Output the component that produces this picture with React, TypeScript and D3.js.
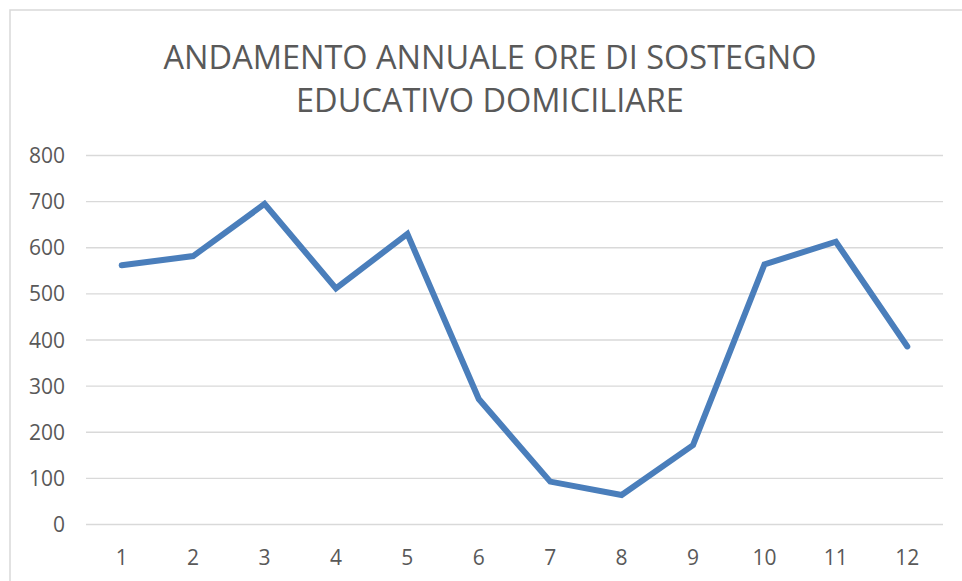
import { useEffect, useRef } from "react"
import * as d3 from "d3"

// Monthly data
const months = ["1", "2", "3", "4", "5", "6", "7", "8", "9", "10", "11", "12"]
const hours = [562, 582, 695, 512, 630, 272, 93, 64, 172, 564, 613, 386]
const yTicks = [0, 100, 200, 300, 400, 500, 600, 700, 800]
const titleLines = ["ANDAMENTO ANNUALE ORE DI SOSTEGNO", "EDUCATIVO DOMICILIARE"]

export default function App() {
  const svgRef = useRef<SVGSVGElement>(null)

  useEffect(() => {
    if (!svgRef.current) return
    d3.select(svgRef.current).selectAll("*").remove()

    const width = 962
    const height = 581
    const margin = { top: 155.5, right: 19, bottom: 56.5, left: 86 }

    const svg = d3.select(svgRef.current).attr("width", width).attr("height", height)

    svg.append("rect").attr("width", width).attr("height", height).attr("fill", "#fff")

    // chart border (runs off right and bottom edges)
    svg
      .append("rect")
      .attr("x", 10)
      .attr("y", 10)
      .attr("width", width + 20)
      .attr("height", height + 20)
      .attr("fill", "none")
      .attr("stroke", "#d9d9d9")
      .attr("stroke-width", 1.5)

    const xScale = d3
      .scaleBand()
      .domain(months)
      .range([margin.left, width - margin.right])

    const yScale = d3
      .scaleLinear()
      .domain([0, 800])
      .range([height - margin.bottom, margin.top])

    // Grid lines
    svg
      .append("g")
      .selectAll("line")
      .data(yTicks)
      .enter()
      .append("line")
      .attr("x1", margin.left)
      .attr("x2", width - margin.right)
      .attr("y1", (d) => yScale(d))
      .attr("y2", (d) => yScale(d))
      .attr("stroke", "#d9d9d9")
      .attr("stroke-width", 1.3)

    // Y labels
    svg
      .append("g")
      .selectAll("text")
      .data(yTicks)
      .enter()
      .append("text")
      .attr("x", 65)
      .attr("y", (d) => yScale(d))
      .attr("dy", "0.36em")
      .attr("text-anchor", "end")
      .attr("font-family", "'Open Sans', sans-serif")
      .attr("font-size", "21px")
      .attr("fill", "#595959")
      .text((d) => d)

    // X labels
    svg
      .append("g")
      .selectAll("text")
      .data(months)
      .enter()
      .append("text")
      .attr("x", (d) => (xScale(d) as number) + xScale.bandwidth() / 2)
      .attr("y", 557)
      .attr("dy", "0.36em")
      .attr("text-anchor", "middle")
      .attr("font-family", "'Open Sans', sans-serif")
      .attr("font-size", "21px")
      .attr("fill", "#595959")
      .text((d) => d)

    const line = d3
      .line<number>()
      .x((_, i) => (xScale(months[i]) as number) + xScale.bandwidth() / 2)
      .y((d) => yScale(d))

    svg
      .append("path")
      .datum(hours)
      .attr("fill", "none")
      .attr("stroke", "#4a7ebb")
      .attr("stroke-width", 6)
      .attr("stroke-linejoin", "miter")
      .attr("stroke-linecap", "round")
      .attr("d", line)

    // Title
    svg
      .append("g")
      .selectAll("text")
      .data(titleLines)
      .enter()
      .append("text")
      .attr("x", 490)
      .attr("y", (_, i) => 57 + i * 43)
      .attr("dy", "0.36em")
      .attr("text-anchor", "middle")
      .attr("font-family", "'Open Sans', sans-serif")
      .attr("font-size", "32.5px")
      .attr("fill", "#595959")
      .text((d) => d)
  }, [])

  return (
    <div style={{ position: "absolute", left: 0, top: 0 }}>
      <svg ref={svgRef} style={{ display: "block" }} />
    </div>
  )
}
